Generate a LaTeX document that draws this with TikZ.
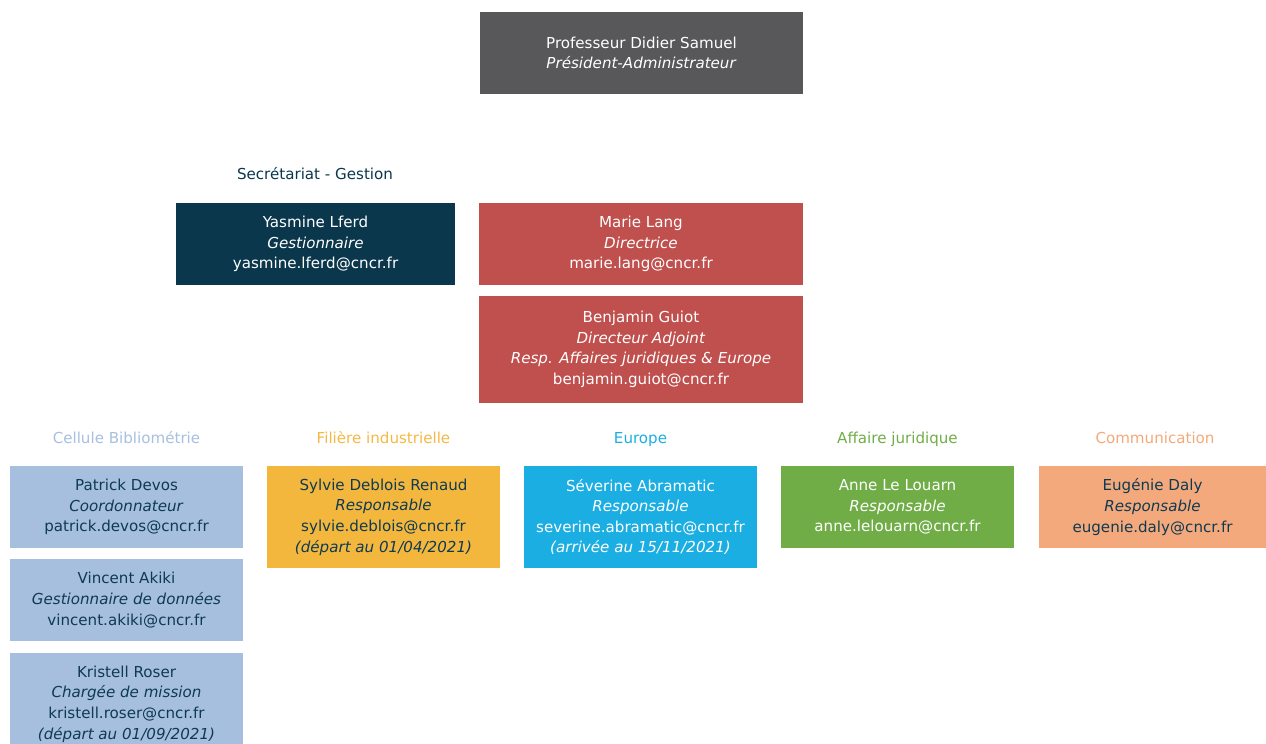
\documentclass[tikz,border=0pt]{standalone}
\usepackage{fontspec}
\setmainfont{DejaVu Sans}
\definecolor{pgray}{HTML}{58585A}
\definecolor{navy}{HTML}{0A374C}
\definecolor{dred}{HTML}{C0504D}
\definecolor{lblue}{HTML}{A7BFDF}
\definecolor{gold}{HTML}{F4B73E}
\definecolor{sky}{HTML}{1BAEE2}
\definecolor{lgreen}{HTML}{70AD47}
\definecolor{peach}{HTML}{F4A97C}
\definecolor{darktxt}{HTML}{0E3A52}
\definecolor{hblue}{HTML}{A7BFE0}
\definecolor{hgold}{HTML}{F4B942}
\definecolor{hsky}{HTML}{1AAFE0}
\definecolor{hgreen}{HTML}{70AD47}
\definecolor{hpeach}{HTML}{F4A97A}
\begin{document}
\begin{tikzpicture}[x=1pt,y=-1pt,
  box/.style={draw=none, align=center, inner sep=0pt,
    font=\fontsize{15.1}{20.6}\selectfont},
  hdr/.style={anchor=base, align=center, inner sep=0pt, font=\fontsize{15.1}{20.6}\selectfont}]
\useasboundingbox (0,0) rectangle (1266,744);
\clip (0,0) rectangle (1266,744);
\node[box, fill=pgray, text=white, minimum width=323pt, minimum height=82pt] (pres) at (641.5,53)
  {Professeur Didier Samuel\\\textit{Président-Administrateur}};
\node[hdr, text=navy] (sec) at (315,179.5) {Secrétariat - Gestion};
\node[box, fill=navy, text=white, minimum width=279pt, minimum height=82pt] (yas) at (315.5,244)
  {Yasmine Lferd\\\textit{Gestionnaire}\\yasmine.lferd@cncr.fr};
\node[box, fill=dred, text=white, minimum width=324pt, minimum height=82pt] (marie) at (641,244)
  {Marie Lang\\\textit{Directrice}\\marie.lang@cncr.fr};
\node[box, fill=dred, text=white, minimum width=324pt, minimum height=107pt] (benj) at (641,349.5)
  {Benjamin Guiot\\\textit{Directeur Adjoint}\\\textit{Resp. Affaires juridiques \& Europe}\\benjamin.guiot@cncr.fr};
\node[hdr, text=hblue] (hcb) at (126.5,443.5) {Cellule Bibliométrie};
\node[hdr, text=hgold] (hfi) at (383.5,443.5) {Filière industrielle};
\node[hdr, text=hsky] (heu) at (640.5,443.5) {Europe};
\node[hdr, text=hgreen] (haj) at (897.5,443.5) {Affaire juridique};
\node[hdr, text=hpeach] (hco) at (1155,443.5) {Communication};
\node[box, fill=lblue, text=darktxt, minimum width=233pt, minimum height=82pt] (pat) at (126.5,507)
  {Patrick Devos\\\textit{Coordonnateur}\\patrick.devos@cncr.fr};
\node[box, fill=lblue, text=darktxt, minimum width=233pt, minimum height=82pt] (vin) at (126.5,600)
  {Vincent Akiki\\\textit{Gestionnaire de données}\\vincent.akiki@cncr.fr};
\node[box, fill=lblue, text=darktxt, minimum width=233pt, minimum height=102pt] (kri) at (126.5,704)
  {Kristell Roser\\\textit{Chargée de mission}\\kristell.roser@cncr.fr\\\textit{(départ au 01/09/2021)}};
\node[box, fill=gold, text=darktxt, minimum width=233pt, minimum height=102pt] (syl) at (383.5,517)
  {Sylvie Deblois Renaud\\\textit{Responsable}\\sylvie.deblois@cncr.fr\\\textit{(départ au 01/04/2021)}};
\node[box, fill=sky, text=white, minimum width=233pt, minimum height=102pt] (sev) at (640.5,517)
  {Séverine Abramatic\\\textit{Responsable}\\severine.abramatic@cncr.fr\\\textit{(arrivée au 15/11/2021)}};
\node[box, fill=lgreen, text=white, minimum width=233pt, minimum height=82pt] (ann) at (897.5,507)
  {Anne Le Louarn\\\textit{Responsable}\\anne.lelouarn@cncr.fr};
\node[box, fill=peach, text=darktxt, minimum width=227pt, minimum height=82pt] (eug) at (1152.5,507)
  {Eugénie Daly\\\textit{Responsable}\\eugenie.daly@cncr.fr};
\end{tikzpicture}
\end{document}
